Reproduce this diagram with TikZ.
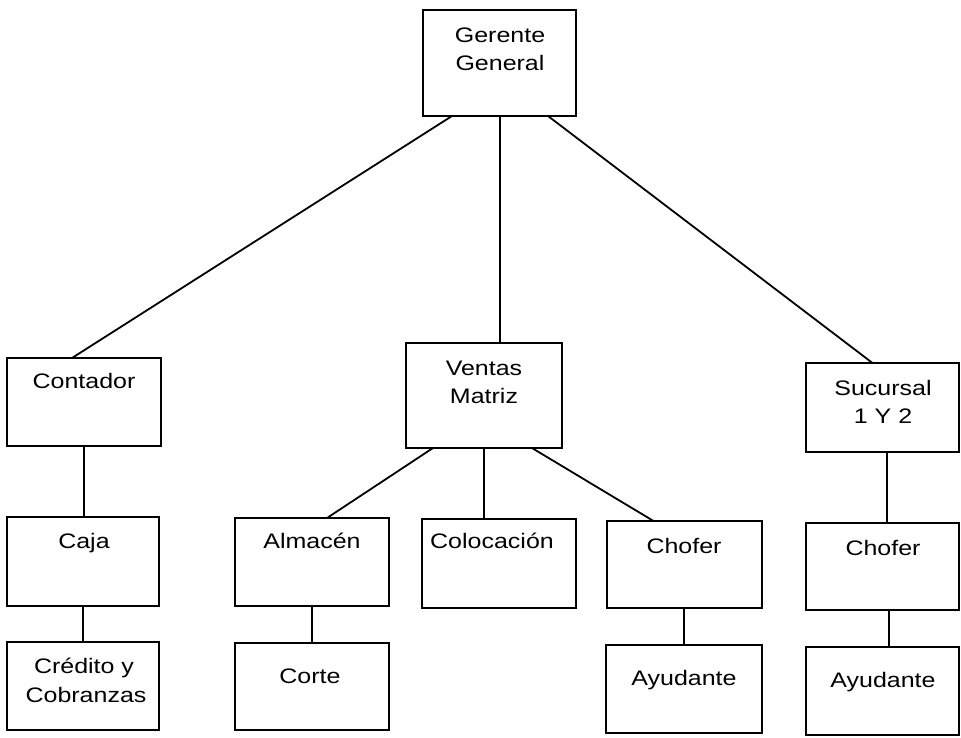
\documentclass[tikz,border=0pt]{standalone}
\usepackage{fontspec}
\setmainfont{Liberation Sans}[FakeStretch=1.19]
\begin{document}
\begin{tikzpicture}[x=1pt,y=-1pt,
  box/.style={draw=black, line width=2pt, anchor=north west, inner sep=0pt, outer sep=0pt},
  lbl/.style={anchor=base, inner sep=0pt, font=\fontsize{21}{28}\selectfont},
  link/.style={draw=black, line width=1.8pt}]
\useasboundingbox (0,0) rectangle (961,737);

% boxes of the chart (north-west corner, width x height)
\node[box, minimum width=153pt, minimum height=106pt] (ger)   at (423,10)  {};
\node[box, minimum width=154pt, minimum height=88pt]  (con)   at (7,358)   {};
\node[box, minimum width=156pt, minimum height=105pt] (ven)   at (406,343) {};
\node[box, minimum width=153pt, minimum height=89pt]  (suc)   at (806,363) {};
\node[box, minimum width=152pt, minimum height=89pt]  (caja)  at (7,517)   {};
\node[box, minimum width=154pt, minimum height=88pt]  (alm)   at (235,518) {};
\node[box, minimum width=154pt, minimum height=89pt]  (col)   at (422,519) {};
\node[box, minimum width=155pt, minimum height=87pt]  (cho1)  at (607,521) {};
\node[box, minimum width=153pt, minimum height=87pt]  (cho2)  at (806,523) {};
\node[box, minimum width=152pt, minimum height=88pt]  (cred)  at (7,642)   {};
\node[box, minimum width=154pt, minimum height=87pt]  (corte) at (235,643) {};
\node[box, minimum width=156pt, minimum height=88pt]  (ayu1)  at (606,645) {};
\node[box, minimum width=153pt, minimum height=88pt]  (ayu2)  at (806,647) {};

% box texts
\node[lbl] (tger1) at (500,42)  {Gerente};
\node[lbl] (tger2) at (500,70)  {General};
\node[lbl] (tcon)  at (84,388)  {Contador};
\node[lbl] (tven1) at (484,375) {Ventas};
\node[lbl] (tven2) at (484,403) {Matriz};
\node[lbl] (tsuc1) at (883,395) {Sucursal};
\node[lbl] (tsuc2) at (883,423) {1 Y 2};
\node[lbl] (tcaja) at (84,548)  {Caja};
\node[lbl] (talm)  at (312,548) {Almacén};
\node[lbl] (tcol)  at (492,548) {Colocación};
\node[lbl] (tcho1) at (684,553) {Chofer};
\node[lbl] (tcho2) at (883,555) {Chofer};
\node[lbl] (tcre1) at (84,673)  {Crédito y};
\node[lbl] (tcre2) at (86,702)  {Cobranzas};
\node[lbl] (tcor)  at (310,683) {Corte};
\node[lbl] (tayu1) at (684,685) {Ayudante};
\node[lbl] (tayu2) at (883,687) {Ayudante};

% connectors
\draw[link] ([xshift=-47.5pt]ger.south) -- ([xshift=-12pt]con.north);
\draw[link] ([xshift=0.5pt]ger.south) -- ([xshift=0.5pt]ger.south |- ven.north);
\draw[link] ([xshift=48.5pt]ger.south) -- ([xshift=-10pt]suc.north);
\draw[link] (con.south) -- (con.south |- caja.north);
\draw[link] (caja.south) -- (caja.south |- cred.north);
\draw[link] ([xshift=-51pt]ven.south) -- ([xshift=15pt]alm.north);
\draw[link] (ven.south) -- (ven.south |- col.north);
\draw[link] ([xshift=48pt]ven.south) -- ([xshift=-31pt]cho1.north);
\draw[link] ([xshift=4.5pt]suc.south) -- ([xshift=4.5pt]suc.south |- cho2.north);
\draw[link] (alm.south) -- (alm.south |- corte.north);
\draw[link] ([xshift=-0.5pt]cho1.south) -- ([xshift=-0.5pt]cho1.south |- ayu1.north);
\draw[link] ([xshift=6.5pt]cho2.south) -- ([xshift=6.5pt]cho2.south |- ayu2.north);
\end{tikzpicture}
\end{document}
